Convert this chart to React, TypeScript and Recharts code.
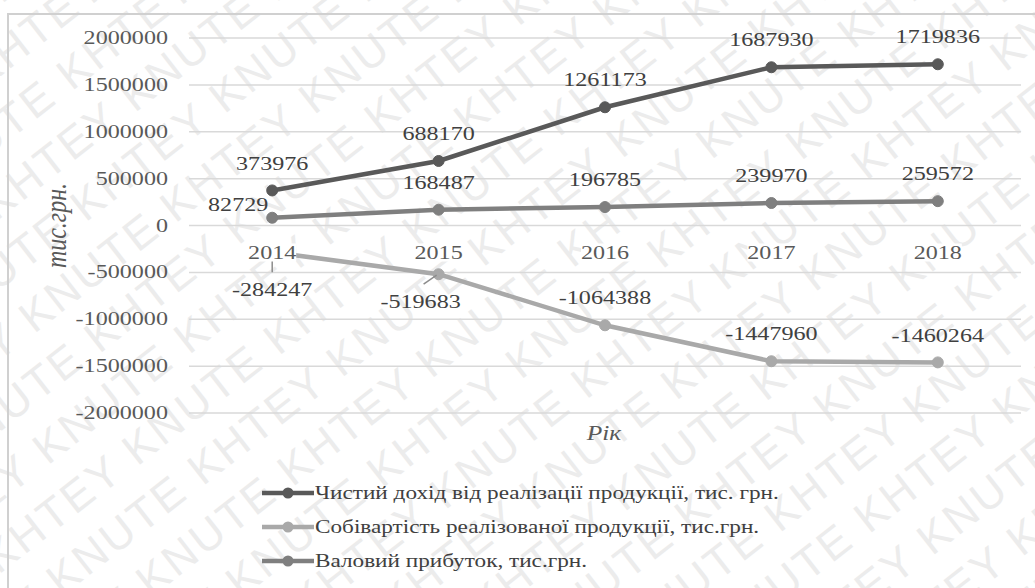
import React from 'react';
import {
  LineChart,
  Line,
  XAxis,
  YAxis,
  CartesianGrid,
  Legend,
  LabelList,
} from 'recharts';

// ---- data ----
const years = ['2014', '2015', '2016', '2017', '2018'];
const netRevenue = [373976, 688170, 1261173, 1687930, 1719836];
const costOfSales = [-284247, -519683, -1064388, -1447960, -1460264];
const grossProfit = [82729, 168487, 196785, 239970, 259572];
const yTicks = [
  -2000000, -1500000, -1000000, -500000, 0, 500000, 1000000, 1500000, 2000000,
];
const seriesNames = [
  'Чистий дохід від реалізації продукції, тис. грн.',
  'Собівартість реалізованої продукції, тис.грн.',
  'Валовий прибуток, тис.грн.',
];
const yAxisTitle = 'тис.грн.';
const xAxisTitle = 'Рік';
const watermarkWords = 'KHTEY KNUTE ';

const rows = years.map((year, i) => ({
  year,
  netRevenue: netRevenue[i],
  costOfSales: costOfSales[i],
  grossProfit: grossProfit[i],
}));

// ---- layout & style ----
const W = 1035;
const H = 588;
const PLOT_LEFT = 189;
const PLOT_RIGHT = 1021;
const PLOT_TOP = 38;
const PLOT_BOTTOM = 413;
const Y_MIN = -2000000;
const Y_MAX = 2000000;
const ZERO_Y = PLOT_TOP + ((PLOT_BOTTOM - PLOT_TOP) * Y_MAX) / (Y_MAX - Y_MIN);
const BAND = (PLOT_RIGHT - PLOT_LEFT) / years.length;

const SERIF = '"Liberation Serif", "Times New Roman", serif';
const SX = 1.27; // horizontal stretch of chart lettering
const LEGEND_SX = 1.19;
const TICK_COLOR = '#595959';
const LABEL_COLOR = '#404040';
const DARK = '#595959';
const LIGHT = '#a9a9a9';
const MID = '#7f7f7f';

const seriesStyles = [
  { key: 'netRevenue', name: seriesNames[0], color: DARK },
  { key: 'costOfSales', name: seriesNames[1], color: LIGHT },
  { key: 'grossProfit', name: seriesNames[2], color: MID },
];

type STextProps = {
  x: number;
  y: number;
  anchor?: 'start' | 'middle' | 'end';
  size?: number;
  fill?: string;
  italic?: boolean;
  rotate?: number;
  children: React.ReactNode;
};

function SText({ x, y, anchor = 'middle', size = 19, fill = TICK_COLOR, italic, rotate, children }: STextProps) {
  const t = `translate(${x},${y}) scale(${SX},1)` + (rotate ? ` rotate(${rotate})` : '');
  return (
    <text
      transform={t}
      textAnchor={anchor}
      dominantBaseline="central"
      style={{ fontFamily: SERIF }}
      fontSize={size}
      fill={fill}
      fontStyle={italic ? 'italic' : 'normal'}
    >
      {children}
    </text>
  );
}

// value label placement per series: default sits above the marker
type Place = { dx: number; dy: number; leader?: [number, number, number, number] };
const ABOVE: Place = { dx: 0, dy: -27 };
const placements: Record<string, Place[]> = {
  netRevenue: [ABOVE, ABOVE, ABOVE, ABOVE, ABOVE],
  costOfSales: [
    { dx: 0, dy: 38, leader: [0, 4, 0, 20] },
    { dx: -18, dy: 28, leader: [-15, 10, -2, 1] },
    ABOVE,
    ABOVE,
    ABOVE,
  ],
  grossProfit: [{ dx: -34, dy: -13 }, ABOVE, ABOVE, ABOVE, ABOVE],
};

const makeLabel = (key: string) => (props: any) => {
  const { x, y, value, index } = props;
  if (x == null || y == null) return null;
  const p = placements[key][index] || ABOVE;
  return (
    <g>
      {p.leader && (
        <line
          x1={x + p.leader[0]}
          y1={y + p.leader[1]}
          x2={x + p.leader[2]}
          y2={y + p.leader[3]}
          stroke="#8c8c8c"
          strokeWidth={1.5}
        />
      )}
      <SText x={x + p.dx} y={y + p.dy} fill={LABEL_COLOR} size={19}>
        {String(value)}
      </SText>
    </g>
  );
};

const YTick = (props: any) => {
  const { y, payload } = props;
  return (
    <SText x={168} y={y} anchor="end" size={19}>
      {String(payload.value)}
    </SText>
  );
};

// category labels sit just under the zero line, on a white backing
const XTick = (props: any) => {
  const { x, payload } = props;
  const ty = ZERO_Y + 27;
  return (
    <g>
      <rect x={x - 24} y={ty - 9} width={48} height={18} fill="#ffffff" />
      <SText x={x} y={ty} size={19}>
        {payload.value}
      </SText>
    </g>
  );
};

const LegendContent = () => (
  <div style={{ display: 'flex', flexDirection: 'column' }}>
    {seriesStyles.map((s) => (
      <div key={s.key} style={{ display: 'flex', alignItems: 'center', height: 34 }}>
        <svg width={52} height={14} style={{ display: 'block' }}>
          <line x1={0} x2={52} y1={7} y2={7} stroke={s.color} strokeWidth={4.5} />
          <circle cx={26} cy={7} r={5.5} fill={s.color} />
        </svg>
        <span
          style={{
            fontFamily: SERIF,
            fontSize: 19.5,
            color: LABEL_COLOR,
            display: 'inline-block',
            whiteSpace: 'nowrap',
            transform: `scaleX(${LEGEND_SX})`,
            transformOrigin: 'left center',
            marginLeft: 1,
          }}
        >
          {s.name}
        </span>
      </div>
    ))}
  </div>
);

function Watermark() {
  const lines = Array.from({ length: 26 }, (_, i) => i);
  return (
    <svg width={W} height={H} style={{ position: 'absolute', left: 0, top: 0 }}>
      <g transform={`rotate(-38 ${W / 2} ${H / 2})`}>
        {lines.map((i) => (
          <text
            key={i}
            x={-560 + (i % 3) * 70}
            y={-420 + i * 56}
            style={{ fontFamily: '"Liberation Sans", Arial, sans-serif' }}
            fontSize={44}
            fill="#ececec"
            letterSpacing={3}
          >
            {watermarkWords.repeat(9)}
          </text>
        ))}
      </g>
    </svg>
  );
}

export default function App() {
  return (
    <div
      style={{
        position: 'absolute',
        left: 0,
        top: 0,
        width: W,
        height: H,
        background: '#ffffff',
        overflow: 'hidden',
      }}
    >
      <Watermark />
      <div
        style={{
          position: 'absolute',
          left: 7,
          top: 13,
          width: W + 20,
          height: H + 20,
          border: '2px solid #d0d0d0',
        }}
      />
      <div style={{ position: 'absolute', left: 0, top: 0 }}>
        <LineChart
          width={W}
          height={H}
          data={rows}
          margin={{ top: PLOT_TOP, right: W - PLOT_RIGHT, bottom: H - PLOT_BOTTOM - 30, left: 0 }}
        >
          <CartesianGrid vertical={false} stroke="#d9d9d9" strokeWidth={1.5} />
          <YAxis
            width={PLOT_LEFT}
            domain={[Y_MIN, Y_MAX]}
            ticks={yTicks}
            axisLine={false}
            tickLine={false}
            tick={<YTick />}
            interval={0}
            label={{
              content: () => (
                <SText x={56} y={ZERO_Y} size={24} italic rotate={-90} fill={TICK_COLOR}>
                  {yAxisTitle}
                </SText>
              ),
            }}
          />
          {seriesStyles.map((s) => (
            <Line
              key={s.key}
              dataKey={s.key}
              name={s.name}
              stroke={s.color}
              strokeWidth={4.5}
              dot={{ r: 5.5, fill: s.color, stroke: s.color, strokeWidth: 1 }}
              activeDot={false}
              isAnimationActive={false}
            >
              <LabelList dataKey={s.key} content={makeLabel(s.key)} />
            </Line>
          ))}
          <XAxis
            dataKey="year"
            height={30}
            axisLine={false}
            tickLine={false}
            padding={{ left: BAND / 2, right: BAND / 2 }}
            interval={0}
            tick={<XTick />}
            label={{
              content: () => (
                <SText x={604} y={433} size={20} italic fill={TICK_COLOR}>
                  {xAxisTitle}
                </SText>
              ),
            }}
          />
          <Legend
            layout="vertical"
            align="center"
            verticalAlign="middle"
            content={<LegendContent />}
            wrapperStyle={{ position: 'absolute', left: 262, top: 476, width: 'auto', bottom: 'auto' }}
          />
        </LineChart>
      </div>
    </div>
  );
}
